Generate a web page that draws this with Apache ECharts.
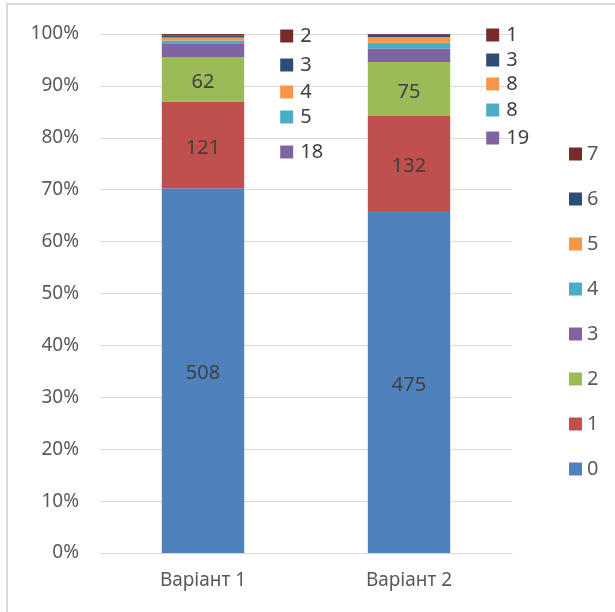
<!DOCTYPE html>
<html>
<head>
<meta charset="utf-8">
<script src="https://cdn.jsdelivr.net/npm/echarts@6/dist/echarts.min.js"></script>
<style>
html,body{margin:0;padding:0;background:#fff;}
#chart{width:615px;height:612px;}
</style>
</head>
<body>
<div id="chart"></div>
<script>
// ---- data ----
const categories = ['Варіант 1', 'Варіант 2'];
const seriesNames = ['0', '1', '2', '3', '4', '5', '6', '7'];
const values0 = [508, 475];
const values1 = [121, 132];
const values2 = [62, 75];
const values3 = [18, 19];
const values4 = [5, 8];
const values5 = [4, 8];
const values6 = [3, 3];
const values7 = [2, 1];
const yTickLabels = ['0%', '10%', '20%', '30%', '40%', '50%', '60%', '70%', '80%', '90%', '100%'];

// ---- styling / layout ----
const colors = ['#4F81BD', '#C0504D', '#9BBB59', '#8064A2', '#4BACC6', '#F79646', '#2C4D75', '#772C2A'];
const insideSeries = [0, 1, 2];
// manual y-positions of the callout labels (pixels), per series index, per category
const calloutY = {
  3: [152, 138],
  4: [117, 110],
  5: [92, 84],
  6: [65, 60],
  7: [36, 35]
};
const FONT = 'Noto Sans, Liberation Sans, sans-serif';

const allValues = [values0, values1, values2, values3, values4, values5, values6, values7];
const totals = categories.map((c, i) => allValues.reduce((s, arr) => s + arr[i], 0));

const series = seriesNames.map((name, si) => {
  const raw = allValues[si];
  const inside = insideSeries.includes(si);
  const s = {
    name: name,
    type: 'bar',
    stack: 'total',
    barWidth: '40%',
    itemStyle: { color: colors[si] },
    data: raw.map((v, i) => v / totals[i] * 100),
    label: inside ? {
      show: true,
      position: 'inside',
      offset: [0, 3],
      fontSize: 20,
      fontFamily: FONT,
      color: '#404040',
      formatter: p => String(raw[p.dataIndex])
    } : {
      show: true,
      position: 'right',
      formatter: p => '{sq|}{t|' + raw[p.dataIndex] + '}',
      rich: {
        sq: { width: 13, height: 13, backgroundColor: colors[si] },
        t: { fontSize: 20, fontFamily: FONT, color: '#404040', padding: [0, 0, 0, 7] }
      }
    },
    emphasis: { disabled: true }
  };
  if (!inside) {
    s.labelLayout = function (params) {
      return {
        x: params.rect.x + params.rect.width + 36,
        y: calloutY[si][params.dataIndex],
        align: 'left',
        verticalAlign: 'middle'
      };
    };
  }
  return s;
});

const chart = echarts.init(document.getElementById('chart'));
chart.setOption({
  animation: false,
  backgroundColor: '#fff',
  color: colors,
  graphic: [{
    type: 'rect',
    shape: { x: 7, y: 4, width: 800, height: 800 },
    style: { fill: 'none', stroke: '#D9D9D9', lineWidth: 2 },
    silent: true,
    z: -10
  }],
  grid: { left: 100, right: 103, top: 34, bottom: 59, containLabel: false },
  legend: {
    orient: 'vertical',
    left: 564,
    top: 139,
    icon: 'rect',
    itemWidth: 13,
    itemHeight: 13,
    itemGap: 25,
    data: seriesNames.slice().reverse(),
    textStyle: { fontSize: 20, lineHeight: 20, color: '#595959', fontFamily: FONT },
    selectedMode: false
  },
  xAxis: {
    type: 'category',
    data: categories,
    axisTick: { show: false },
    axisLine: { lineStyle: { color: '#D9D9D9' } },
    axisLabel: { fontSize: 19, color: '#595959', fontFamily: FONT, margin: 18 }
  },
  yAxis: {
    type: 'value',
    min: 0,
    max: 100,
    interval: 10,
    axisLine: { show: false },
    axisTick: { show: false },
    splitLine: { lineStyle: { color: '#D9D9D9' } },
    axisLabel: {
      fontSize: 19, color: '#595959', fontFamily: FONT, margin: 21,
      formatter: v => yTickLabels[Math.round(v / 10)]
    }
  },
  series: series
});
</script>
</body>
</html>
